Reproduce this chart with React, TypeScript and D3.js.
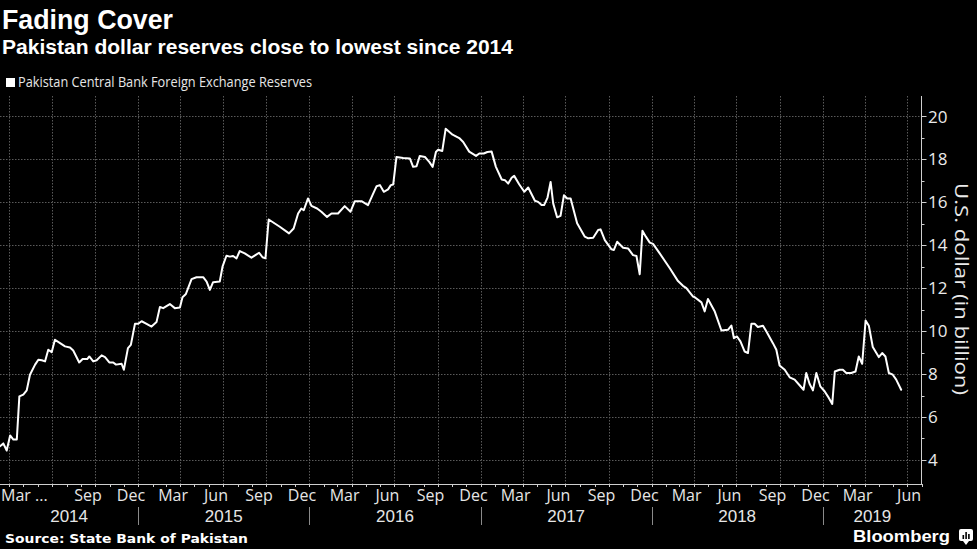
import React from 'react';
import * as d3 from 'd3';

const W = 977;
const H = 549;

const titleText = 'Fading Cover';
const subtitleText = 'Pakistan dollar reserves close to lowest since 2014';
const legendText = 'Pakistan Central Bank Foreign Exchange Reserves';
const sourceText = 'Source: State Bank of Pakistan';
const yAxisTitle = 'U.S. dollar (in billion)';

// Dates as decimal years (weekly reading, traced)
const dates = [
  2014.192, 2014.211, 2014.231, 2014.251, 2014.270, 2014.290, 2014.305, 2014.328, 2014.348, 2014.367,
  2014.397, 2014.416, 2014.436, 2014.455, 2014.474, 2014.494, 2014.513, 2014.543, 2014.572, 2014.601,
  2014.620, 2014.655, 2014.675, 2014.702, 2014.714, 2014.737, 2014.757, 2014.786, 2014.806, 2014.831,
  2014.854, 2014.870, 2014.903, 2014.916, 2014.940, 2014.957, 2014.981, 2015.000, 2015.020, 2015.049,
  2015.078, 2015.107, 2015.127, 2015.146, 2015.185, 2015.214, 2015.244, 2015.259, 2015.279, 2015.312,
  2015.341, 2015.380, 2015.400, 2015.419, 2015.438, 2015.477, 2015.493, 2015.516, 2015.536, 2015.555,
  2015.575, 2015.594, 2015.623, 2015.662, 2015.707, 2015.727, 2015.744, 2015.763, 2015.828, 2015.882,
  2015.909, 2015.935, 2015.954, 2015.968, 2015.993, 2016.013, 2016.046, 2016.071, 2016.104, 2016.130,
  2016.168, 2016.207, 2016.241, 2016.266, 2016.305, 2016.343, 2016.369, 2016.393, 2016.412, 2016.435,
  2016.460, 2016.476, 2016.490, 2016.509, 2016.548, 2016.587, 2016.606, 2016.626, 2016.645, 2016.675,
  2016.700, 2016.720, 2016.739, 2016.752, 2016.776, 2016.796, 2016.836, 2016.875, 2016.898, 2016.933,
  2016.973, 2016.992, 2017.018, 2017.039, 2017.064, 2017.089, 2017.123, 2017.142, 2017.161, 2017.181,
  2017.196, 2017.225, 2017.255, 2017.278, 2017.317, 2017.336, 2017.356, 2017.371, 2017.391, 2017.409,
  2017.424, 2017.447, 2017.467, 2017.487, 2017.506, 2017.526, 2017.564, 2017.609, 2017.629, 2017.658,
  2017.687, 2017.701, 2017.726, 2017.765, 2017.779, 2017.798, 2017.833, 2017.862, 2017.891, 2017.911,
  2017.930, 2017.946, 2017.966, 2017.989, 2018.008, 2018.047, 2018.106, 2018.154, 2018.183, 2018.203,
  2018.242, 2018.252, 2018.291, 2018.310, 2018.329, 2018.369, 2018.408, 2018.446, 2018.466, 2018.481,
  2018.499, 2018.519, 2018.544, 2018.563, 2018.583, 2018.602, 2018.621, 2018.651, 2018.671, 2018.709,
  2018.729, 2018.748, 2018.778, 2018.807, 2018.836, 2018.865, 2018.888, 2018.904, 2018.923, 2018.943,
  2018.963, 2018.986, 2019.011, 2019.036, 2019.056, 2019.071, 2019.099, 2019.118, 2019.138, 2019.167,
  2019.192, 2019.211, 2019.231, 2019.251, 2019.270, 2019.293, 2019.328, 2019.348, 2019.367, 2019.387,
  2019.410, 2019.430, 2019.459,
];

// Reserves, USD billion
const reserves = [
  4.64, 4.77, 4.44, 5.14, 4.95, 4.95, 6.96, 7.04, 7.24, 7.97,
  8.44, 8.67, 8.64, 8.59, 9.13, 9.02, 9.60, 9.44, 9.29, 9.24,
  9.10, 8.54, 8.70, 8.70, 8.82, 8.59, 8.64, 8.87, 8.79, 8.54,
  8.54, 8.44, 8.48, 8.20, 9.21, 9.36, 10.34, 10.34, 10.46, 10.34,
  10.21, 10.42, 11.12, 11.07, 11.26, 11.07, 11.10, 11.58, 11.73, 12.42,
  12.51, 12.51, 12.31, 11.92, 12.28, 12.31, 13.00, 13.51, 13.47, 13.50,
  13.39, 13.73, 13.62, 13.42, 13.65, 13.44, 13.39, 15.20, 14.86, 14.55,
  14.78, 15.48, 15.71, 15.63, 16.18, 15.83, 15.71, 15.56, 15.32, 15.48,
  15.48, 15.82, 15.56, 16.05, 16.05, 15.87, 16.33, 16.75, 16.80, 16.49,
  16.60, 16.80, 16.83, 18.11, 18.06, 18.04, 17.65, 17.68, 18.16, 18.11,
  17.88, 17.65, 18.34, 18.45, 18.39, 19.43, 19.15, 18.99, 18.81, 18.36,
  18.16, 18.27, 18.27, 18.34, 18.36, 17.65, 17.06, 17.03, 16.87, 17.14,
  17.23, 16.84, 16.49, 16.69, 16.07, 16.02, 15.87, 15.87, 16.22, 16.95,
  15.95, 15.30, 15.37, 16.33, 16.18, 16.18, 15.02, 14.40, 14.32, 14.35,
  14.71, 14.74, 14.24, 13.81, 13.78, 14.16, 13.88, 13.85, 13.54, 13.50,
  12.65, 14.67, 14.40, 14.12, 14.06, 13.62, 12.93, 12.33, 12.11, 12.00,
  11.61, 11.58, 11.34, 10.92, 11.50, 10.91, 10.03, 10.06, 10.26, 9.67,
  9.75, 9.52, 9.05, 8.98, 10.34, 10.34, 10.19, 10.25, 9.98, 9.44,
  9.13, 8.40, 8.20, 7.85, 7.74, 7.48, 7.27, 8.05, 7.55, 7.24,
  8.05, 7.43, 7.20, 6.89, 6.61, 8.12, 8.20, 8.20, 8.05, 8.05,
  8.12, 8.82, 8.48, 10.49, 10.25, 9.26, 8.79, 8.98, 8.82, 8.05,
  7.97, 7.74, 7.27,
];

const yTicks = [4, 6, 8, 10, 12, 14, 16, 18, 20];
const yMinorTicks = [5, 7, 9, 11, 13, 15, 17, 19];
const labelMonths = ['Mar', 'Jun', 'Sep', 'Dec'];
const years = [2014, 2015, 2016, 2017, 2018, 2019];
const xStart = '2014-03-12';
const xEnd = '2019-08-01';
const yDomain = [2.88, 20.95];

function decYear(t: number): Date {
  const y = Math.floor(t);
  const s = Date.UTC(y, 0, 1);
  const e = Date.UTC(y + 1, 0, 1);
  return new Date(s + (t - y) * (e - s));
}

const FONT = '"Open Sans", "Noto Sans", sans-serif';
const HEAD = '"Liberation Sans", Arial, sans-serif';

export default function App() {
  const plotLeft = 0;
  const plotRight = 922;
  const plotTop = 96;
  const plotBottom = 484;

  const x = d3.scaleUtc().domain([new Date(xStart), new Date(xEnd)]).range([plotLeft, plotRight]);
  const y = d3.scaleLinear().domain(yDomain).range([plotBottom, plotTop]);

  const data: [Date, number][] = dates.map((t, i) => [decYear(t), reserves[i]]);
  const line = d3.line<[Date, number]>().x(d => x(d[0])).y(d => y(d[1]));

  const [d0, d1] = x.domain();
  const quarterLines = d3.utcMonth.every(3)!.range(d0, d1).filter(d => d.getUTCMonth() % 3 === 0);
  const monthTicks = d3.utcMonth.range(d0, new Date(d1.getTime() + 1));
  const allMonths = d3.utcMonth.range(d3.utcMonth.floor(d0), d1);
  const monthLabelData = allMonths
    .filter(m => m.getUTCMonth() % 3 === 2)
    .map((m, i, arr) => {
      const next = d3.utcMonth.offset(m, 1);
      const name = labelMonths[Math.floor(m.getUTCMonth() / 3)];
      const cx = (x(m) + x(next)) / 2;
      return { m, name, cx, first: i === 0, last: i === arr.length - 1 };
    });

  const yearLabels = years.map(yr => {
    const a = Math.max(plotLeft, x(new Date(Date.UTC(yr, 0, 1))));
    const b = Math.min(plotRight, x(new Date(Date.UTC(yr + 1, 0, 1))));
    return { yr, cx: (a + b) / 2 };
  });
  const yearSeps = years.slice(1).map(yr => x(new Date(Date.UTC(yr, 0, 1))));

  const axisX = plotRight - 0.5;
  const gridColor = '#5a5a5a';

  return (
    <svg width={W} height={H} style={{ position: 'absolute', left: 0, top: 0, display: 'block' }}
      xmlns="http://www.w3.org/2000/svg">
      <rect x={0} y={0} width={W} height={H} fill="#000" />

      {/* Titles */}
      <text x={2} y={29} fill="#fff" fontFamily={HEAD} fontWeight={700} fontSize={28}
        textLength={171} lengthAdjust="spacingAndGlyphs">{titleText}</text>
      <text x={2} y={54} fill="#fff" fontFamily={HEAD} fontWeight={700} fontSize={20}
        textLength={511} lengthAdjust="spacingAndGlyphs">{subtitleText}</text>

      {/* Legend */}
      <rect x={6} y={78} width={9} height={9} fill="#fff" />
      <text x={18} y={87} fill="#e6e6e6" fontFamily={FONT} fontSize={14}
        textLength={294} lengthAdjust="spacingAndGlyphs">{legendText}</text>

      {/* Grid */}
      <g stroke={gridColor} strokeWidth={1} strokeDasharray="1.5,1.5">
        {yTicks.map(v => (
          <line key={'h' + v} x1={plotLeft} x2={axisX} y1={Math.round(y(v)) + 0.5} y2={Math.round(y(v)) + 0.5} />
        ))}
        {quarterLines.map(d => (
          <line key={'v' + d.getTime()} x1={Math.round(x(d)) + 0.5} x2={Math.round(x(d)) + 0.5} y1={plotTop} y2={plotBottom} />
        ))}
      </g>

      {/* Data line */}
      <path d={line(data) || ''} fill="none" stroke="#fff" strokeWidth={2} strokeLinejoin="round" strokeLinecap="round" />

      {/* X axis */}
      <line x1={plotLeft} x2={axisX} y1={plotBottom + 0.5} y2={plotBottom + 0.5} stroke="#cfcfcf" strokeWidth={1} />
      {monthTicks.map(d => (
        <line key={'mt' + d.getTime()} x1={Math.round(x(d)) + 0.5} x2={Math.round(x(d)) + 0.5}
          y1={plotBottom} y2={plotBottom + 3} stroke="#cfcfcf" strokeWidth={1} />
      ))}
      {monthLabelData
        .filter(l => !(l.m.getUTCFullYear() === 2014 && l.name === 'Jun'))
        .map(l => (
          <text key={'ml' + l.m.getTime()}
            x={l.first ? plotLeft + 1 : l.last ? plotRight - 1 : l.cx}
            y={501} fill="#e6e6e6" fontFamily={FONT} fontSize={16}
            textAnchor={l.first ? 'start' : l.last ? 'end' : 'middle'}>
            {l.first ? l.name + ' ...' : l.name}
          </text>
        ))}
      {yearLabels.map(l => (
        <text key={'yl' + l.yr} x={l.cx} y={522} fill="#e6e6e6" fontFamily={HEAD} fontSize={17}
          textAnchor="middle">{l.yr}</text>
      ))}
      {yearSeps.map(sx => (
        <line key={'ys' + sx} x1={Math.round(sx) + 0.5} x2={Math.round(sx) + 0.5} y1={507} y2={525}
          stroke="#8a8a8a" strokeWidth={1} />
      ))}

      {/* Y axis (right) */}
      <line x1={axisX} x2={axisX} y1={plotTop} y2={plotBottom + 1} stroke="#cfcfcf" strokeWidth={1} />
      {yTicks.map(v => (
        <line key={'yt' + v} x1={axisX} x2={axisX + 5} y1={Math.round(y(v)) + 0.5} y2={Math.round(y(v)) + 0.5}
          stroke="#cfcfcf" strokeWidth={1} />
      ))}
      {yMinorTicks.map(v => (
        <line key={'ymt' + v} x1={axisX} x2={axisX + 3} y1={Math.round(y(v)) + 0.5} y2={Math.round(y(v)) + 0.5}
          stroke="#cfcfcf" strokeWidth={1} />
      ))}
      {yTicks.map(v => (
        <text key={'ytl' + v} x={928} y={y(v)} dy="0.36em" fill="#eaeaea" fontFamily={FONT} fontSize={17}>{v}</text>
      ))}
      <text transform={`translate(955, 289) rotate(90)`} textAnchor="middle" fill="#eaeaea"
        fontFamily={FONT} fontSize={19} textLength={212} lengthAdjust="spacingAndGlyphs">{yAxisTitle}</text>

      {/* Footer */}
      <text x={5} y={542.5} fill="#fff" fontFamily={'"DejaVu Sans", sans-serif'} fontWeight={700} fontSize={13}
        textLength={243} lengthAdjust="spacingAndGlyphs">{sourceText}</text>
      <text x={853} y={541.5} fill="#fff" fontFamily={HEAD} fontWeight={700} fontSize={16}
        textLength={97} lengthAdjust="spacingAndGlyphs">Bloomberg</text>
      <g>
        <rect x={959} y={529} width={14} height={12} rx={2} fill="#fff" />
        <path d="M963,541 L966,545 L969,541 Z" fill="#fff" />
        <rect x={962.5} y={535} width={1.6} height={4} fill="#000" />
        <rect x={965.3} y={532} width={1.6} height={7} fill="#000" />
        <rect x={968.1} y={534} width={1.6} height={5} fill="#000" />
      </g>
    </svg>
  );
}
